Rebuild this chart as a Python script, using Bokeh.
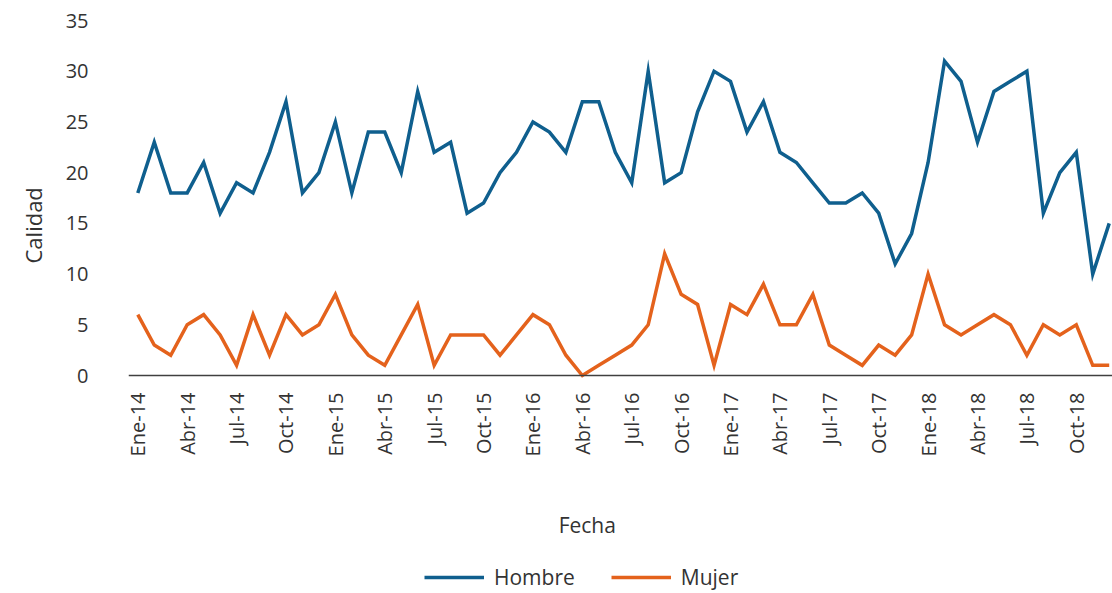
import math
from bokeh.plotting import figure
from bokeh.models import Range1d, FixedTicker, Legend, LegendItem, ColumnDataSource, Span, Label
from bokeh.core.properties import value
from bokeh.embed import file_html
from bokeh.resources import INLINE

# ---- data ----
month_names = ["Ene", "Feb", "Mar", "Abr", "May", "Jun", "Jul", "Ago", "Sep", "Oct", "Nov", "Dic"]
years = ["14", "15", "16", "17", "18"]
fechas = [f"{m}-{y}" for y in years for m in month_names]  # 60 months

hombre = [18, 23, 18, 18, 21, 16, 19, 18, 22, 27,
          18, 20, 25, 18, 24, 24, 20, 28, 22, 23,
          16, 17, 20, 22, 25, 24, 22, 27, 27, 22,
          19, 30, 19, 20, 26, 30, 29, 24, 27, 22,
          21, 19, 17, 17, 18, 16, 11, 14, 21, 31,
          29, 23, 28, 29, 30, 16, 20, 22, 10, 15]

mujer = [6, 3, 2, 5, 6, 4, 1, 6, 2, 6,
         4, 5, 8, 4, 2, 1, 4, 7, 1, 4,
         4, 4, 2, 4, 6, 5, 2, 0, 1, 2,
         3, 5, 12, 8, 7, 1, 7, 6, 9, 5,
         5, 8, 3, 2, 1, 3, 2, 4, 10, 5,
         4, 5, 6, 5, 2, 5, 4, 5, 1, 1]

tick_idx = [i for i in range(len(fechas)) if i % 3 == 0]
tick_labels = [fechas[i] for i in tick_idx]
y_ticks = [0, 5, 10, 15, 20, 25, 30, 35]

BLUE = "#0F5F8E"
ORANGE = "#E4621C"
TEXT = "#333333"
FONT = "Open Sans"

idx = list(range(len(fechas)))
src = ColumnDataSource(dict(x=idx, fecha=fechas, hombre=hombre, mujer=mujer))
tick_src = ColumnDataSource(dict(x=tick_idx, y=[0] * len(tick_idx), label=tick_labels))

PX_PER_UNIT = 355 / 35.0
FRAME_H = 578
y_top = 35 + 5 / PX_PER_UNIT
y_bottom = y_top - FRAME_H / PX_PER_UNIT

p = figure(frame_width=984, frame_height=FRAME_H, output_backend="svg", toolbar_location=None,
           x_range=Range1d(-0.565, 59.2), y_range=Range1d(y_bottom, y_top),
           x_axis_location=None,
           title="Calidad", title_location="left",
           min_border_left=128, min_border_right=0, min_border_top=15, min_border_bottom=0)
p.outline_line_color = None
p.xgrid.grid_line_color = None
p.ygrid.grid_line_color = None
p.background_fill_color = "white"
p.border_fill_color = "white"

# y-axis title (drawn as a side title so it sits beside the 0-35 scale)
p.title.text_font = FONT
p.title.text_font_size = "22px"
p.title.text_font_style = "normal"
p.title.text_color = TEXT
p.title.align = "left"
p.title.offset = 330
p.title.standoff = 30

r1 = p.line("x", "hombre", source=src, line_color=BLUE, line_width=3.5, line_join="miter")
r2 = p.line("x", "mujer", source=src, line_color=ORANGE, line_width=3.5, line_join="miter")

# x axis: baseline + rotated month labels
p.add_layout(Span(location=0, dimension="width", line_color="#404040", line_width=1.5))
p.text(x="x", y="y", text="label", source=tick_src, angle=math.pi / 2,
       text_align="right", text_baseline="middle", y_offset=17,
       text_font=value(FONT), text_font_size=value("20px"), text_color=TEXT)
p.add_layout(Label(x=27.3, y=69, x_units="data", y_units="screen", text="Fecha",
                   text_align="center", text_baseline="middle",
                   text_font=FONT, text_font_size="21px", text_color=TEXT))

# y axis
ya = p.yaxis[0]
ya.ticker = FixedTicker(ticks=y_ticks)
ya.axis_line_color = None
ya.major_tick_out = 0
ya.major_tick_in = 0
ya.major_tick_line_color = None
ya.minor_tick_line_color = None
ya.major_label_standoff = 40
ya.major_label_text_font = FONT
ya.major_label_text_font_size = "20px"
ya.major_label_text_color = TEXT

legend = Legend(items=[LegendItem(label="Hombre", renderers=[r1]),
                       LegendItem(label="Mujer", renderers=[r2])],
                orientation="horizontal", location=(296, 2),
                glyph_width=60, glyph_height=20, label_standoff=10, spacing=36,
                label_text_font=FONT, label_text_font_size="21px", label_text_color=TEXT,
                border_line_color=None, background_fill_alpha=0, padding=0, margin=0)
p.add_layout(legend)

open("out.html", "w").write(file_html(p, INLINE))
